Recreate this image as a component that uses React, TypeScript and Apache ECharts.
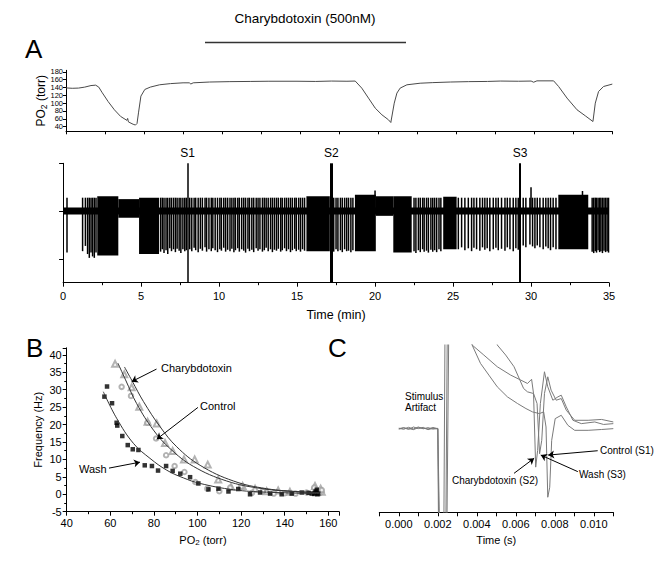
import React, { useEffect, useRef } from "react";
import * as echarts from "echarts";

// ---------- Panel A: PO2 trace (time in min, torr) ----------
const po2Time = [0, 0.4, 0.8, 1.2, 1.6, 1.9, 2.1, 2.3, 2.7, 3.1, 3.5, 3.9, 3.95, 4.0, 4.3, 4.45, 4.55, 4.65, 4.8, 5.05, 5.4, 6.0, 6.7, 7.5, 7.9, 8.0, 8.15, 9.2, 10.5, 11.8, 13, 14.8, 16, 17, 18, 18.53, 18.95, 19.38, 19.81, 20.24, 20.66, 20.81, 21.03, 21.2, 21.41, 21.84, 22.69, 23.5, 24.62, 25.8, 27, 27.82, 29, 29.8, 29.96, 30.17, 31.24, 31.56, 32.1, 32.74, 33.27, 33.76, 33.91, 34.12, 34.44, 35.0];
const po2Value = [139, 138, 138.5, 141, 145, 146, 141, 128, 104, 83, 66, 56, 61, 52, 46, 44, 48, 77, 118, 135, 141, 147, 150, 152, 152, 149, 152, 154, 155, 155.5, 156, 156, 155.5, 156.5, 156, 156.5, 138.4, 112.9, 87.3, 70.2, 57.4, 50.5, 100, 125.7, 138.5, 146.9, 151, 152.5, 154, 155, 155.5, 156.5, 156, 156.5, 153.5, 157, 157, 142.6, 112.9, 83, 67.6, 53, 100, 129.8, 142.6, 148.7];
const po2Ticks = [40, 60, 80, 100, 120, 140, 160, 180];

// ---------- Panel A: nerve recording (time in min, arbitrary units) ----------
const stimTimes = [7.98, 17.2, 29.3];
const stimNames = ["S1", "S2", "S3"];
const stimWidths = [1.5, 3, 2];
const traceTicks = [-1, 0, 1];
const SPIKE_TOP = 0.28;
// dense bursts: [start, end, low, high]
const bursts = [
  [2.19, 3.54, -0.93, 0.31],
  [4.87, 6.15, -0.9, 0.28],
  [15.6, 17.1, -0.84, 0.31],
  [18.71, 20.05, -0.84, 0.34],
  [21.17, 22.35, -0.87, 0.31],
  [24.37, 25.23, -0.8, 0.3],
  [31.75, 33.67, -0.8, 0.34],
];
// silent stretches with widened baseline: [start, end, low, high]
const quietBlocks = [
  [3.54, 4.87, -0.14, 0.25],
  [20.05, 21.17, -0.1, 0.31],
];
// single spikes: [time, low]
const spikesEarly = [[0.25, -0.87], [1.25, -0.84], [1.43, -0.73], [1.57, -0.9], [1.68, -0.98], [1.79, -0.87], [1.89, -0.95], [2.0, -0.98], [2.11, -0.87]];
const spikesPreS1 = [[6.25, -0.85], [6.36, -0.8], [6.47, -0.88], [6.6, -0.82], [6.71, -0.9], [6.84, -0.78], [6.95, -0.84], [7.08, -0.8], [7.2, -0.86], [7.31, -0.79], [7.44, -0.83], [7.55, -0.88], [7.68, -0.8], [7.8, -0.84], [7.9, -0.82]];
const spikesS1S2 = [[8.12, -0.8], [8.25, -0.84], [8.4, -0.77], [8.5, -0.82], [8.66, -0.86], [8.8, -0.79], [8.93, -0.83], [9.1, -0.76], [9.2, -0.85], [9.35, -0.8], [9.5, -0.84], [9.6, -0.78], [9.75, -0.82], [9.9, -0.86], [10.05, -0.8], [10.15, -0.83], [10.3, -0.77], [10.42, -0.85], [10.55, -0.81], [10.7, -0.84], [10.82, -0.79], [10.95, -0.86], [11.05, -0.82], [11.2, -0.78], [11.3, -0.85], [11.45, -0.8], [11.58, -0.83], [11.7, -0.87], [11.85, -0.79], [11.95, -0.84], [12.1, -0.81], [12.22, -0.86], [12.38, -0.78], [12.5, -0.83], [12.62, -0.8], [12.78, -0.85], [12.9, -0.82], [13.02, -0.77], [13.15, -0.84], [13.3, -0.8], [13.42, -0.86], [13.55, -0.81], [13.68, -0.83], [13.8, -0.79], [13.95, -0.85], [14.05, -0.82], [14.2, -0.78], [14.32, -0.84], [14.45, -0.8], [14.58, -0.86], [14.7, -0.82], [14.85, -0.79], [14.95, -0.84], [15.1, -0.81], [15.22, -0.85], [15.35, -0.8], [15.48, -0.83]];
const spikesPostS2 = [[17.35, -0.85], [17.5, -0.8], [17.62, -0.84], [17.78, -0.82], [17.9, -0.86], [18.05, -0.8], [18.18, -0.84], [18.3, -0.83], [18.45, -0.86], [18.58, -0.82]];
const spikesMid = [[22.5, -0.84], [22.62, -0.88], [22.78, -0.82], [22.9, -0.86], [23.05, -0.8], [23.15, -0.85], [23.3, -0.83], [23.42, -0.87], [23.58, -0.81], [23.7, -0.85], [23.82, -0.82], [23.95, -0.86], [24.1, -0.8], [24.22, -0.84]];
const spikesPreS3 = [[25.34, -0.8], [25.55, -0.76], [25.76, -0.82], [25.98, -0.78], [26.19, -0.84], [26.34, -0.77], [26.51, -0.8], [26.72, -0.83], [26.89, -0.76], [27.04, -0.81], [27.19, -0.78], [27.36, -0.84], [27.58, -0.8], [27.75, -0.77], [27.9, -0.82], [28.11, -0.79], [28.33, -0.83], [28.48, -0.76], [28.65, -0.8], [28.86, -0.84], [29.03, -0.78], [29.18, -0.81]];
const spikesPostS3 = [[29.5, -0.72], [29.67, -0.76], [29.93, -0.7], [30.1, -0.74], [30.25, -0.78], [30.4, -0.72], [30.57, -0.76], [30.78, -0.8], [30.95, -0.74], [31.1, -0.78], [31.25, -0.82], [31.42, -0.76], [31.6, -0.8]];
const spikesEnd = [[33.92, -0.85], [34.02, -0.88], [34.12, -0.84], [34.2, -0.87], [34.3, -0.82], [34.4, -0.86], [34.48, -0.84], [34.58, -0.88], [34.68, -0.83], [34.78, -0.86], [34.88, -0.84], [34.97, -0.87]];
const tallSpikes = [[20.0, 0.43], [30.0, 0.5], [33.3, 0.42]];

// ---------- Panel B: frequency vs PO2 ----------
const washPts = [[57.3, 28.0], [58.5, 30.9], [60.8, 26.1], [62.9, 20.5], [63.2, 19.7], [65.5, 16.7], [68, 14.1], [70.3, 12.9], [72.9, 12.7], [75.8, 8.3], [79.1, 8.1], [81.9, 6.8], [85.6, 8.1], [88.6, 6.7], [92.1, 5.9], [96.6, 4.9], [100.4, 3.1], [105, 1.4], [109.6, 1.6], [114.2, 0.8], [118.7, 1.5], [124.1, 0], [128.7, 0.5], [133.3, 0.2], [138.6, 0], [143.2, 0.2], [147.8, 0.5], [150.9, 0.4], [152.4, 0.2], [153.9, 0.4], [154.7, 1.3], [155.4, 0.2], [155, 0], [154.2, 0.8], [153.5, 0.1]];
const controlPts = [[65.2, 30.8], [69.5, 28.2], [77, 20.5], [81, 16], [85.6, 11.2], [89.5, 8.1], [94, 6.4], [99, 3.5], [104.5, 1.6], [110, 0.9], [115, 1.9], [120, 2.2], [125, 0.4], [130, 0.9], [135, 0.2], [140, 0.3], [145, 0.2], [150, 0.5], [153.5, 1.9], [155, 0.8], [156, 0.3], [157, 1.2]];
const ctxPts = [[62.2, 37.4], [66.4, 34.4], [69.8, 30.7], [73.3, 25.1], [77.1, 20.8], [81.3, 20.3], [85.1, 14.7], [88.6, 12.4], [93.8, 10.0], [98.7, 10.0], [104.7, 8.5], [109.5, 4.2], [115.4, 2.1], [120.7, 2.4], [126.4, 1.6], [131.7, 0.9], [137, 1.1], [142.4, 0.7], [153.9, 2.4], [156.5, 1.6], [157, 0.7]];
const ctxFit = [[66.5, 36.5], [70, 32.5], [75.2, 26.6], [82.8, 19.4], [90.5, 13.6], [101.2, 8.3], [116.5, 3.8], [131.7, 1.6], [147, 0.7], [156, 0.4]];
const controlFit = [[63.5, 37.6], [67, 32.8], [72.1, 26.0], [79.8, 18.4], [87.4, 13.1], [98.1, 8.0], [113.4, 3.8], [128.7, 1.7], [144, 0.8], [156, 0.5]];
const washFit = [[56.8, 29.4], [62.9, 21.8], [70.6, 14.6], [78.2, 10.3], [85.9, 6.9], [93.5, 4.7], [101.2, 3.1], [116.5, 1.3], [131.7, 0.6], [156, 0.2]];

// ---------- Panel C: compound action potentials (time in ms, arbitrary units) ----------
const ctxTrace = [[0, 50], [0.25, 50.6], [0.5, 49.5], [0.75, 51], [1.0, 50], [1.25, 50.8], [1.5, 49.4], [1.75, 50.2], [2.0, 49.8], [2.05, -30], [2.3, -30], [2.38, 130], [3.3, 130], [3.76, 100], [4.36, 94], [5.05, 87], [5.74, 82], [6.26, 79], [6.6, 77], [6.81, 79.5], [6.91, 71], [7.02, 27], [7.12, 37], [7.26, 65], [7.47, 84], [7.64, 75], [7.9, 67], [8.16, 69], [8.33, 70], [8.59, 63], [8.93, 55], [9.36, 53], [10.05, 54], [10.5, 52.5], [11.0, 53]];
const washTrace = [[0, 50.3], [0.25, 49.6], [0.5, 50.8], [0.75, 49.8], [1.0, 51], [1.25, 49.9], [1.5, 50.6], [1.75, 49.7], [2.0, 50.2], [2.08, -30], [2.4, -30], [2.5, 130], [4.5, 125], [5.05, 100], [5.48, 94], [5.91, 87], [6.4, 74], [6.6, 72], [6.91, 71], [7.09, 65], [7.22, 35], [7.33, 43], [7.47, 71], [7.64, 81], [7.81, 73], [8.07, 67], [8.33, 68], [8.59, 61], [9.02, 55], [9.71, 55], [10.4, 55.5], [11.0, 54]];
const ctrlTrace = [[0, 49.7], [0.25, 50.4], [0.5, 50.1], [0.75, 49.4], [1.0, 50.6], [1.25, 50.2], [1.5, 49.8], [1.75, 50.7], [2.0, 50], [2.12, -30], [2.45, -30], [2.58, 130], [3.3, 125], [3.76, 100], [4.19, 89], [4.62, 82], [5.05, 75], [5.57, 69], [6.09, 65], [6.52, 62], [6.86, 60], [7.21, 59], [7.43, 60], [7.55, 51], [7.64, 9], [7.74, 15], [7.84, 43], [8.02, 56], [8.33, 58], [8.67, 52], [9.02, 49], [9.71, 49], [10.4, 49.5], [11.0, 50]];
const cLabelTicks = [0, 2, 4, 6, 8, 10];

const FONT = '"Liberation Sans", Arial, Helvetica, sans-serif';

export default function App() {
  const ref = useRef<HTMLDivElement>(null);
  useEffect(() => {
    document.body.style.margin = "0";
    const chart = echarts.init(ref.current!, null, { renderer: "svg" });

    const axisLine = { show: true, onZero: false, lineStyle: { color: "#000", width: 1 } };
    const tick = (len: number) => ({ show: true, length: len, lineStyle: { color: "#000", width: 1 } });

    const rectItem = (_p: any, api: any) => {
      const a = api.coord([api.value(0), api.value(3)]);
      const b = api.coord([api.value(1), api.value(2)]);
      return { type: "rect", shape: { x: a[0], y: a[1], width: b[0] - a[0], height: b[1] - a[1] }, style: { fill: "#000" } };
    };
    const vItem = (_p: any, api: any) => {
      const a = api.coord([api.value(0), api.value(1)]);
      const b = api.coord([api.value(0), api.value(2)]);
      return { type: "line", shape: { x1: a[0], y1: a[1], x2: b[0], y2: b[1] }, style: { stroke: "#000", lineWidth: 1.5 } };
    };

    const allSpikes = [
      ...spikesEarly, ...spikesPreS1, ...spikesS1S2, ...spikesPostS2,
      ...spikesMid, ...spikesPreS3, ...spikesPostS3, ...spikesEnd,
    ].map(([t, lo]) => [t, lo, SPIKE_TOP]);
    const tall = tallSpikes.map(([t, hi]) => [t, 0, hi]);

    const arrowLine = (pairs: number[][][]) => ({
      silent: true,
      symbol: ["none", "arrow"],
      symbolSize: 6,
      label: { show: false },
      lineStyle: { type: "solid", color: "#000", width: 1 },
      emphasis: { disabled: true },
      data: pairs.map(([a, b]) => [{ coord: a }, { coord: b }]),
    });

    const option: any = {
      animation: false,
      backgroundColor: "#fff",
      textStyle: { fontFamily: FONT, color: "#000" },
      grid: [
        { left: 66, top: 70.3, width: 546.3, height: 61 },
        { left: 63.1, top: 163.3, width: 545.9, height: 119.4 },
        { left: 66.7, top: 347.8, width: 272.5, height: 163.9 },
        { left: 379.3, top: 345, width: 234, height: 167.3 },
      ],
      xAxis: [
        {
          gridIndex: 0, type: "value", min: 0, max: 35, interval: 2.5,
          axisLine, axisTick: tick(3), axisLabel: { show: false }, splitLine: { show: false },
        },
        {
          gridIndex: 1, type: "value", min: 0, max: 35, interval: 5,
          axisLine, axisTick: tick(4), minorTick: { show: true, splitNumber: 2, length: 2.5, lineStyle: { color: "#000" } },
          axisLabel: { fontSize: 11, color: "#000", margin: 8 }, splitLine: { show: false },
          name: "Time (min)", nameLocation: "middle", nameGap: 26,
          nameTextStyle: { fontSize: 12.5, color: "#000" },
        },
        {
          gridIndex: 2, type: "value", min: 40, max: 165, interval: 20,
          axisLine, axisTick: tick(4), minorTick: { show: true, splitNumber: 2, length: 2.5, lineStyle: { color: "#000" } },
          axisLabel: { fontSize: 11, color: "#000", margin: 6 }, splitLine: { show: false },
          name: "{n|PO}{s|2}{n| (torr)}", nameLocation: "middle", nameGap: 21,
          nameTextStyle: {
            rich: {
              n: { fontSize: 11, color: "#000", lineHeight: 14 },
              s: { fontSize: 8, color: "#000", lineHeight: 14, verticalAlign: "bottom" },
            },
          },
        },
        {
          gridIndex: 3, type: "value", min: -1, max: 11, interval: 1,
          axisLine, axisTick: tick(4),
          axisLabel: {
            fontSize: 11, color: "#000", margin: 6, customValues: cLabelTicks,
            formatter: (v: number) => (v / 1000).toFixed(3),
          },
          splitLine: { show: false },
          name: "Time (s)", nameLocation: "middle", nameGap: 22,
          nameTextStyle: { fontSize: 11, color: "#000" },
        },
      ],
      yAxis: [
        {
          gridIndex: 0, type: "value", min: 28, max: 184,
          axisLine, axisTick: { ...tick(3), customValues: po2Ticks },
          axisLabel: {
            fontSize: 7.5, lineHeight: 7.5, color: "#000", margin: 3, customValues: po2Ticks,
            showMinLabel: true, showMaxLabel: true, hideOverlap: false,
          },
          splitLine: { show: false },
          name: "{n|PO}{s|2}{n| (torr)}", nameLocation: "middle", nameRotate: 90, nameGap: 18,
          nameMoveOverlap: false,
          nameTextStyle: {
            rich: {
              n: { fontSize: 12, color: "#000", lineHeight: 15 },
              s: { fontSize: 8.5, color: "#000", lineHeight: 15, verticalAlign: "bottom" },
            },
          },
        },
        {
          gridIndex: 1, type: "value", min: -1.5, max: 1,
          axisLine, axisTick: { ...tick(4), customValues: traceTicks },
          axisLabel: { show: false }, splitLine: { show: false },
        },
        {
          gridIndex: 2, type: "value", min: -5, max: 42, interval: 5,
          axisLine, axisTick: tick(4), minorTick: { show: true, splitNumber: 2, length: 2.5, lineStyle: { color: "#000" } },
          axisLabel: { fontSize: 11, color: "#000", margin: 5 }, splitLine: { show: false },
          name: "Frequency (Hz)", nameLocation: "middle", nameRotate: 90, nameGap: 23,
          nameTextStyle: { fontSize: 11, color: "#000" },
        },
        { gridIndex: 3, type: "value", min: 0, max: 100, show: false },
      ],
      series: [
        {
          type: "line", xAxisIndex: 0, yAxisIndex: 0, showSymbol: false, symbol: "none",
          data: po2Time.map((t, i) => [t, po2Value[i]]),
          lineStyle: { color: "#4a4a4a", width: 1 },
        },
        {
          type: "custom", xAxisIndex: 1, yAxisIndex: 1, renderItem: vItem, data: allSpikes, silent: true,
        },
        {
          type: "custom", xAxisIndex: 1, yAxisIndex: 1, renderItem: vItem, data: tall, silent: true,
        },
        {
          type: "custom", xAxisIndex: 1, yAxisIndex: 1, renderItem: rectItem, data: bursts, silent: true,
        },
        {
          type: "custom", xAxisIndex: 1, yAxisIndex: 1, renderItem: rectItem, data: quietBlocks, silent: true,
        },
        {
          type: "line", xAxisIndex: 1, yAxisIndex: 1, symbol: "none",
          data: [[0, 0], [35, 0]],
          lineStyle: { color: "#000", width: 7 },
          markLine: {
            silent: true, symbol: ["none", "none"],
            label: { show: true, position: "end", fontSize: 12, color: "#000", distance: 4 },
            lineStyle: { type: "solid", color: "#000" },
            emphasis: { disabled: true },
            data: stimTimes.map((t, i) => ({
              xAxis: t,
              label: { formatter: stimNames[i] },
              lineStyle: { width: stimWidths[i], type: "solid", color: "#000" },
            })),
          },
        },
        {
          type: "line", xAxisIndex: 2, yAxisIndex: 2, symbol: "none", smooth: 0.4,
          data: ctxFit, lineStyle: { color: "#333", width: 1 },
          markLine: arrowLine([
            [[81.2, 35.9], [69.8, 32.3]],
            [[100.2, 24.9], [81.3, 15.8]],
            [[59.4, 7.5], [73.6, 9.2]],
          ]),
        },
        { type: "line", xAxisIndex: 2, yAxisIndex: 2, symbol: "none", smooth: 0.4, data: controlFit, lineStyle: { color: "#333", width: 1 } },
        { type: "line", xAxisIndex: 2, yAxisIndex: 2, symbol: "none", smooth: 0.4, data: washFit, lineStyle: { color: "#333", width: 1 } },
        {
          type: "scatter", xAxisIndex: 2, yAxisIndex: 2, symbol: "emptyTriangle", symbolSize: 6,
          data: ctxPts, itemStyle: { color: "#a0a0a0", borderColor: "#a0a0a0", borderWidth: 0.8 },
        },
        {
          type: "scatter", xAxisIndex: 2, yAxisIndex: 2, symbol: "emptyCircle", symbolSize: 4.5,
          data: controlPts, itemStyle: { color: "#a0a0a0", borderColor: "#a0a0a0", borderWidth: 0.8 },
        },
        {
          type: "scatter", xAxisIndex: 2, yAxisIndex: 2, symbol: "rect", symbolSize: 4.5,
          data: washPts, itemStyle: { color: "#000" },
        },
        {
          type: "line", xAxisIndex: 3, yAxisIndex: 3, symbol: "none", data: ctrlTrace,
          lineStyle: { color: "#7a7a7a", width: 1 },
          markLine: arrowLine([
            [[10.2, 36.8], [7.66, 34.2]],
            [[9.18, 24.3], [7.28, 34.2]],
            [[5.91, 23.3], [6.94, 32.3]],
          ]),
        },
        { type: "line", xAxisIndex: 3, yAxisIndex: 3, symbol: "none", data: ctxTrace, lineStyle: { color: "#7a7a7a", width: 1 } },
        { type: "line", xAxisIndex: 3, yAxisIndex: 3, symbol: "none", data: washTrace, lineStyle: { color: "#7a7a7a", width: 1 } },
      ],
      graphic: [
        { type: "text", x: 25, y: 49, style: { text: "A", font: `26px ${FONT}`, fill: "#000", verticalAlign: "middle" } },
        { type: "text", x: 26, y: 348, style: { text: "B", font: `26px ${FONT}`, fill: "#000", verticalAlign: "middle" } },
        { type: "text", x: 328, y: 348, style: { text: "C", font: `26px ${FONT}`, fill: "#000", verticalAlign: "middle" } },
        { type: "text", x: 305, y: 18, style: { text: "Charybdotoxin (500nM)", font: `13.5px ${FONT}`, fill: "#000", align: "center", verticalAlign: "middle" } },
        { type: "line", shape: { x1: 205, y1: 42.5, x2: 406, y2: 42.5 }, style: { stroke: "#333", lineWidth: 1.5 } },
        { type: "text", x: 161, y: 368, style: { text: "Charybdotoxin", font: `11px ${FONT}`, fill: "#000", verticalAlign: "middle" } },
        { type: "text", x: 200, y: 406, style: { text: "Control", font: `11px ${FONT}`, fill: "#000", verticalAlign: "middle" } },
        { type: "text", x: 79, y: 469, style: { text: "Wash", font: `11px ${FONT}`, fill: "#000", verticalAlign: "middle" } },
        { type: "text", x: 405, y: 396, style: { text: "Stimulus", font: `10px ${FONT}`, fill: "#000", verticalAlign: "middle" } },
        { type: "text", x: 405, y: 407, style: { text: "Artifact", font: `10px ${FONT}`, fill: "#000", verticalAlign: "middle" } },
        { type: "text", x: 600, y: 450, style: { text: "Control (S1)", font: `10px ${FONT}`, fill: "#000", verticalAlign: "middle" } },
        { type: "text", x: 579, y: 474, style: { text: "Wash (S3)", font: `10px ${FONT}`, fill: "#000", verticalAlign: "middle" } },
        { type: "text", x: 495, y: 480, style: { text: "Charybdotoxin (S2)", font: `10px ${FONT}`, fill: "#000", align: "center", verticalAlign: "middle" } },
      ],
    };
    chart.setOption(option);
    return () => chart.dispose();
  }, []);
  return <div ref={ref} style={{ position: "absolute", left: 0, top: 0, width: 669, height: 563, background: "#fff" }} />;
}
